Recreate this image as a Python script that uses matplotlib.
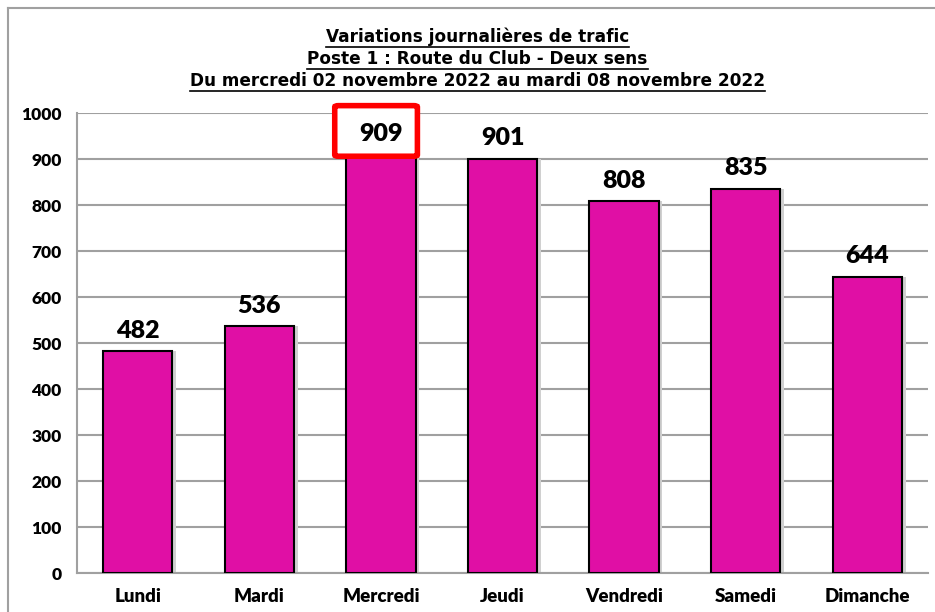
import matplotlib
matplotlib.use("Agg")
import matplotlib.pyplot as plt
from matplotlib.patches import FancyBboxPatch
from matplotlib.lines import Line2D

# data
jours = ["Lundi", "Mardi", "Mercredi", "Jeudi", "Vendredi", "Samedi", "Dimanche"]
trafic = [482, 536, 909, 901, 808, 835, 644]
yticks = [0, 100, 200, 300, 400, 500, 600, 700, 800, 900, 1000]
titre = ["Variations journalières de trafic",
         "Poste 1 : Route du Club - Deux sens",
         "Du mercredi 02 novembre 2022 au mardi 08 novembre 2022"]
jour_max = "Mercredi"

W, H = 935, 612
fig = plt.figure(figsize=(W / 100, H / 100), dpi=100)
fig.patch.set_facecolor("white")

# frame of the chart area (top and left edges only are visible)
fig.add_artist(Line2D([8 / W, 8 / W], [0, 1 - 8 / H], color="#a0a0a0", lw=1.5))
fig.add_artist(Line2D([8 / W, 1], [1 - 8 / H, 1 - 8 / H], color="#a0a0a0", lw=1.5))

ax = fig.add_axes([77 / W, (H - 573) / H, (928 - 77) / W, (573 - 113) / H])
x = list(range(len(jours)))

# soft shadow on the right of each bar
ax.bar([i + 0.03 for i in x], trafic, width=0.57, color="#d0d0d0", zorder=2)
ax.bar(x, trafic, width=0.57, color="#E00FA5", edgecolor="black", linewidth=1.5, zorder=3)

ax.set_xlim(-0.5, len(jours) - 0.5)
ax.set_ylim(0, 1000)
ax.set_yticks(yticks)
ax.yaxis.grid(True, color="#a0a0a0", lw=1.5, zorder=0)
ax.set_axisbelow(True)
for s in ["top", "right"]:
    ax.spines[s].set_visible(False)
for s in ["left", "bottom"]:
    ax.spines[s].set_color("#a0a0a0")
    ax.spines[s].set_linewidth(1.5)

lab_font = ["Lato", "DejaVu Sans"]
ax.set_xticks(x)
ax.set_xticklabels(jours, family=lab_font, fontweight="heavy", fontsize=13.5)
for t in ax.get_yticklabels():
    t.set_family(lab_font)
    t.set_fontweight("heavy")
    t.set_fontsize(12.5)
ax.tick_params(axis="both", length=0)
ax.tick_params(axis="y", pad=11)
ax.tick_params(axis="x", pad=11)

for i, v in zip(x, trafic):
    ax.annotate(str(v), (i, v), xytext=(0, 7), textcoords="offset points",
                ha="center", va="bottom", family=lab_font, fontweight="heavy",
                fontsize=18, zorder=6)

# red frame around the max day value
k = jours.index(jour_max)
vmax = trafic[k]
box = FancyBboxPatch((k - 0.38, vmax - 3), 0.68, 110,
                     boxstyle="round,pad=0,rounding_size=0.03",
                     facecolor="white", edgecolor="#ff0000", linewidth=4,
                     clip_on=False, zorder=5, mutation_aspect=100)
ax.add_patch(box)

# underlined title
title_font = ["DejaVu Sans"]
texts = []
for j, ligne in enumerate(titre):
    t = fig.text(477.5 / W, 1 - (37 + 22 * j) / H, ligne, ha="center", va="center",
                 family=title_font, fontweight="bold", fontsize=12.2)
    texts.append(t)
fig.canvas.draw()
r = fig.canvas.get_renderer()
for t in texts:
    bb = t.get_window_extent(r)
    yl = (bb.y0 - 1) / H
    fig.add_artist(Line2D([bb.x0 / W, bb.x1 / W], [yl, yl], color="black", lw=1.2))

fig.savefig("out.png", dpi=100, facecolor="white")
